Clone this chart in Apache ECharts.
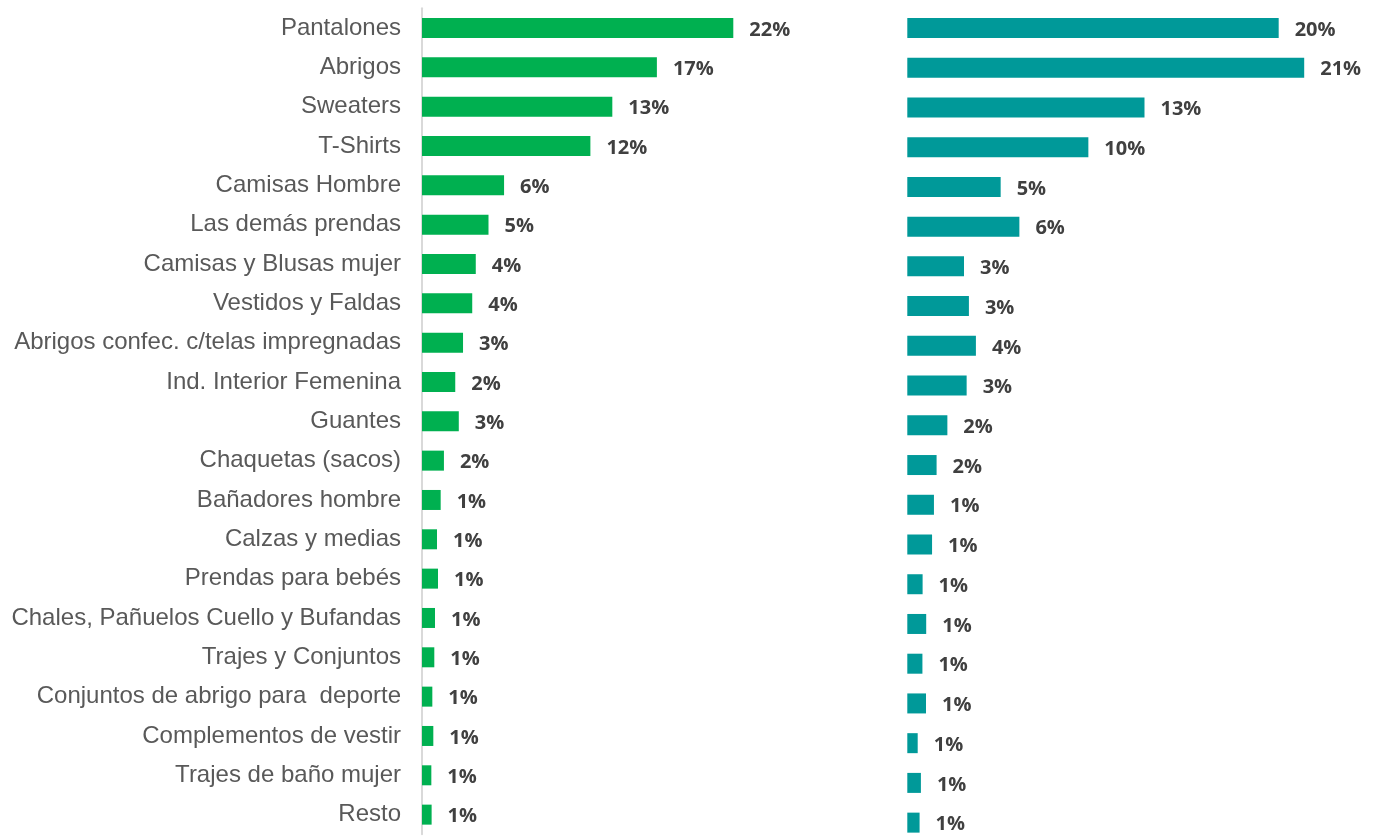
<!DOCTYPE html>
<html>
<head>
<meta charset="utf-8">
<script src="https://cdn.jsdelivr.net/npm/echarts@6/dist/echarts.min.js"></script>
<style>
  html, body { margin: 0; padding: 0; background: #fff; overflow: hidden; }
  #chart { width: 1373px; height: 860px; }
</style>
</head>
<body>
<div id="chart"></div>
<script>
// categorias (de arriba hacia abajo)
const categories = [
  "Pantalones", "Abrigos", "Sweaters", "T-Shirts", "Camisas Hombre",
  "Las demás prendas", "Camisas y Blusas mujer", "Vestidos y Faldas",
  "Abrigos confec. c/telas impregnadas", "Ind. Interior Femenina", "Guantes",
  "Chaquetas (sacos)", "Bañadores hombre", "Calzas y medias", "Prendas para bebés",
  "Chales, Pañuelos Cuello y Bufandas", "Trajes y Conjuntos",
  "Conjuntos de abrigo para  deporte", "Complementos de vestir",
  "Trajes de baño mujer", "Resto"
];
// participacion % (izquierda, verde)
const leftValues = [
  22.0, 16.6, 13.45, 11.9, 5.8, 4.7, 3.8, 3.55, 2.9, 2.35, 2.6,
  1.55, 1.32, 1.06, 1.13, 0.92, 0.87, 0.73, 0.8, 0.66, 0.68
];
// participacion % (derecha, turquesa)
const rightValues = [
  19.65, 21.0, 12.55, 9.58, 4.94, 5.93, 3.0, 3.26, 3.63, 3.14, 2.12,
  1.55, 1.41, 1.31, 0.81, 1.0, 0.8, 0.99, 0.55, 0.72, 0.65
];

const chart = echarts.init(document.getElementById("chart"));

const valueLabel = {
  show: true,
  position: "right",
  distance: 16,
  formatter: (p) => Math.round(p.value) + "%",
  fontFamily: "Open Sans",
  fontWeight: "bold",
  fontSize: 20,
  color: "#404040",
  offset: [0, 2],
};

chart.setOption({
  animation: false,
  grid: [
    { left: 422, top: 8.3, width: 339.6, height: 826 },
    { left: 907.3, top: 8.1, width: 453.6, height: 834.4 },
  ],
  xAxis: [
    { gridIndex: 0, type: "value", min: 0, max: 24, show: false },
    { gridIndex: 1, type: "value", min: 0, max: 24, show: false },
  ],
  yAxis: [
    {
      gridIndex: 0,
      type: "category",
      data: categories,
      inverse: true,
      axisLine: { show: true, lineStyle: { color: "#d9d9d9", width: 2 } },
      axisTick: { show: false },
      axisLabel: {
        margin: 21,
        fontFamily: "Liberation Sans",
        fontSize: 24,
        color: "#595959",
      },
    },
    {
      gridIndex: 1,
      type: "category",
      data: categories,
      inverse: true,
      show: false,
    },
  ],
  series: [
    {
      type: "bar",
      xAxisIndex: 0,
      yAxisIndex: 0,
      data: leftValues,
      barWidth: 20,
      itemStyle: { color: "#00b050" },
      label: valueLabel,
    },
    {
      type: "bar",
      xAxisIndex: 1,
      yAxisIndex: 1,
      data: rightValues,
      barWidth: 20,
      itemStyle: { color: "#009999" },
      label: valueLabel,
    },
  ],
});
</script>
</body>
</html>
